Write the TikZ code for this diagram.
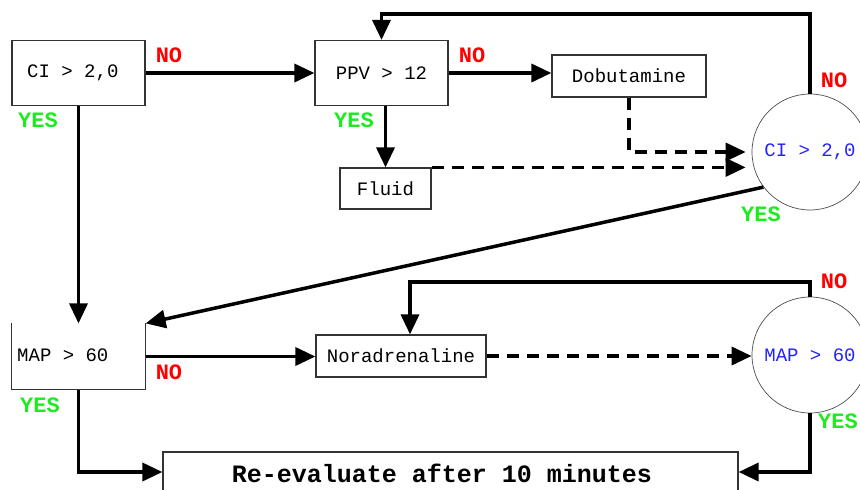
\documentclass[tikz,border=0pt]{standalone}
\usepackage{fontspec}
\setmonofont{Liberation Mono}
\usetikzlibrary{arrows.meta,calc}

\definecolor{nored}{RGB}{255,0,0}
\definecolor{yesgreen}{RGB}{30,235,30}
\definecolor{qblue}{RGB}{35,35,255}

\begin{document}
\begin{tikzpicture}[x=1pt,y=-1pt,
  boxline/.style={draw=black!80,line width=1.2pt},
  box/.style={boxline,inner sep=0pt,font=\ttfamily\fontsize{19}{21}\selectfont},
  boxtext/.style={inner sep=0pt,anchor=west,font=\ttfamily\fontsize{19}{21}\selectfont},
  check/.style={circle,draw=black!70,line width=0.7pt,minimum size=116pt,inner sep=0pt,
    text=qblue,font=\ttfamily\fontsize{19}{21}\selectfont},
  flow/.style={line width=3.5pt,-{Triangle[length=20pt,width=18pt]}},
  dflow/.style={flow,dash pattern=on 12pt off 8pt},
  nolbl/.style={text=nored,inner sep=0pt,font=\ttfamily\bfseries\fontsize{22}{24}\selectfont},
  yeslbl/.style={text=yesgreen,inner sep=0pt,font=\ttfamily\bfseries\fontsize{22}{24}\selectfont}
]
\useasboundingbox (0,0) rectangle (860,490);

% decision and action boxes
\node[box,minimum width=133pt,minimum height=65pt] (ci) at (78.5,73) {};
\node[boxtext] (citext) at (27,73) {CI > 2,0};
\node[box,minimum width=133pt,minimum height=65pt] (ppv) at (381.5,73) {PPV > 12};
\node[box,minimum width=154pt,minimum height=42pt] (dob) at (629,76) {Dobutamine};
\node[box,minimum width=91pt,minimum height=41pt] (fluid) at (385.5,188.5) {Fluid};
\node[box,draw=none,minimum width=133pt,minimum height=65pt] (map) at (78.5,356.5) {};
\node[boxtext] (maptext) at (17,355) {MAP > 60};
\draw[boxline] (map.north west) -- (map.south west) -- (map.south east) -- (map.north east);
\node[box,minimum width=170pt,minimum height=42pt] (nor) at (401,356) {Noradrenaline};
\node[box,minimum width=575pt,minimum height=40pt] (reeval) at (450.5,472) {};
\node[inner sep=0pt,font=\ttfamily\bfseries\fontsize{25}{27}\selectfont]
  (reevaltext) at (442,473) {Re-evaluate after 10 minutes};

% re-check circles
\node[check] (ci2) at (810,152) {CI > 2,0};
\node[check] (map2) at (810,355) {MAP > 60};

% helper points for the loops back
\coordinate (top) at (0,14);
\coordinate (nloop) at (410,282);

% connectors
\draw[flow] (ci.east) -- (ci.east -| ppv.west);
\draw[flow] (ppv.east) -- (ppv.east -| dob.west);
\draw[flow] (ppv.south -| fluid.north) -- (fluid.north);
\draw[dflow,shorten >=6pt] (fluid.north east) -- (fluid.north east -| ci2.west);
\draw[dflow,shorten >=6pt] (dob.south) |- (ci2.west);
\draw[flow] (ci2.north) -- (ci2.north |- top) -| (ppv.north);
\draw[flow] (ci2.217) -- (map.north east);
\draw[flow] (ci.south) -- (map.north);
\draw[flow] (map.east) -- (map.east -| nor.west);
\draw[dflow] (nor.east) -- (nor.east -| map2.west);
\draw[flow] (map2.north) |- (nloop) -- (nloop |- nor.north);
\draw[flow] (map2.south) |- (reeval.east);
\draw[flow] (map.south) |- (reeval.west);

% branch labels
\node[nolbl] (no1) at (169,55) {NO};
\node[yeslbl] (yes1) at (38,120) {YES};
\node[nolbl] (no2) at (472,55) {NO};
\node[yeslbl] (yes2) at (354,120) {YES};
\node[nolbl] (no3) at (834,80) {NO};
\node[yeslbl] (yes3) at (761,214) {YES};
\node[nolbl] (no4) at (169,372) {NO};
\node[yeslbl] (yes4) at (40,405) {YES};
\node[nolbl] (no5) at (834,281) {NO};
\node[yeslbl,anchor=west] (yes5) at (818,421) {YES};
\end{tikzpicture}
\end{document}
